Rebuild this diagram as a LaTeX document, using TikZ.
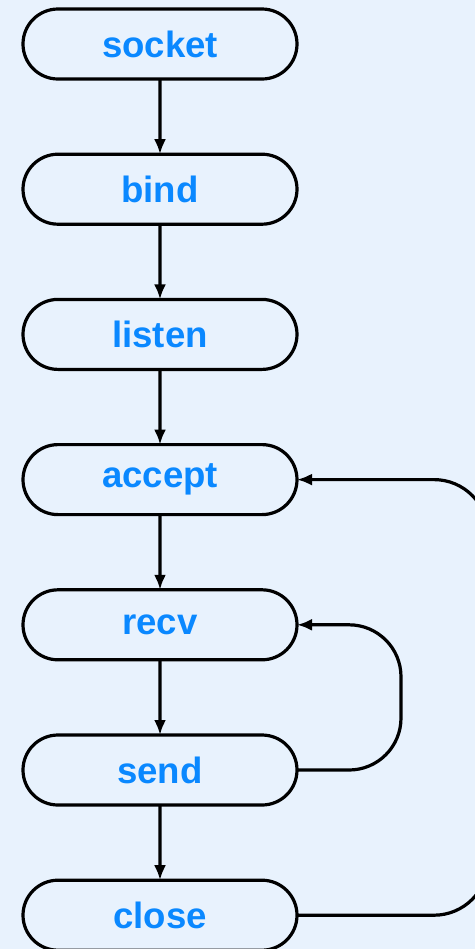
\documentclass[tikz,border=0pt]{standalone}
\usepackage{fontspec}
\setmainfont{Liberation Sans}
\definecolor{call-blue}{RGB}{10,136,255}
\definecolor{pale-sky}{RGB}{232,242,253}
\usetikzlibrary{arrows.meta}
\usetikzlibrary{positioning}
\usetikzlibrary{shapes.misc}

\begin{document}
\begin{tikzpicture}[%
            call/.style={%
              draw,
              rounded rectangle,
              line width=1.6pt,
              minimum width=137pt,
              minimum height=35pt,
              inner sep=0pt,
              outer sep=0pt,
              text=call-blue,
              font=\fontsize{18.3}{20}\selectfont\bfseries,
            },
            flow/.style={%
              line width=1.6pt,
              -{Latex[length=7.5pt,width=6pt]},
            },
            node distance=37.6pt,
          ]
            \fill [pale-sky] (0,0) rectangle (237.5pt,-474.5pt);
            \useasboundingbox (0,0) rectangle (237.5pt,-474.5pt);

            \node [call] (socket) at (80pt,-22pt) {socket};
            \node [call,below=of socket] (bind) {bind};
            \node [call,below=of bind] (listen) {listen};
            \node [call,below=of listen] (accept) {accept};
            \node [call,below=of accept] (recv) {recv};
            \node [call,below=of recv] (send) {send};
            \node [call,below=of send] (close) {close};

            \foreach \a/\b in {socket/bind,bind/listen,listen/accept,accept/recv,recv/send,send/close}
              \draw [flow] (\a) -- (\b);

            \coordinate [right=52pt of send] (send loop);
            \coordinate [right=95.5pt of close] (close loop);
            \draw [flow,rounded corners=26pt] (send.east) -- (send loop) |- (recv.east);
            \draw [flow,rounded corners=27pt] (close.east) -- (close loop) |- (accept.east);
          \end{tikzpicture}
\end{document}
